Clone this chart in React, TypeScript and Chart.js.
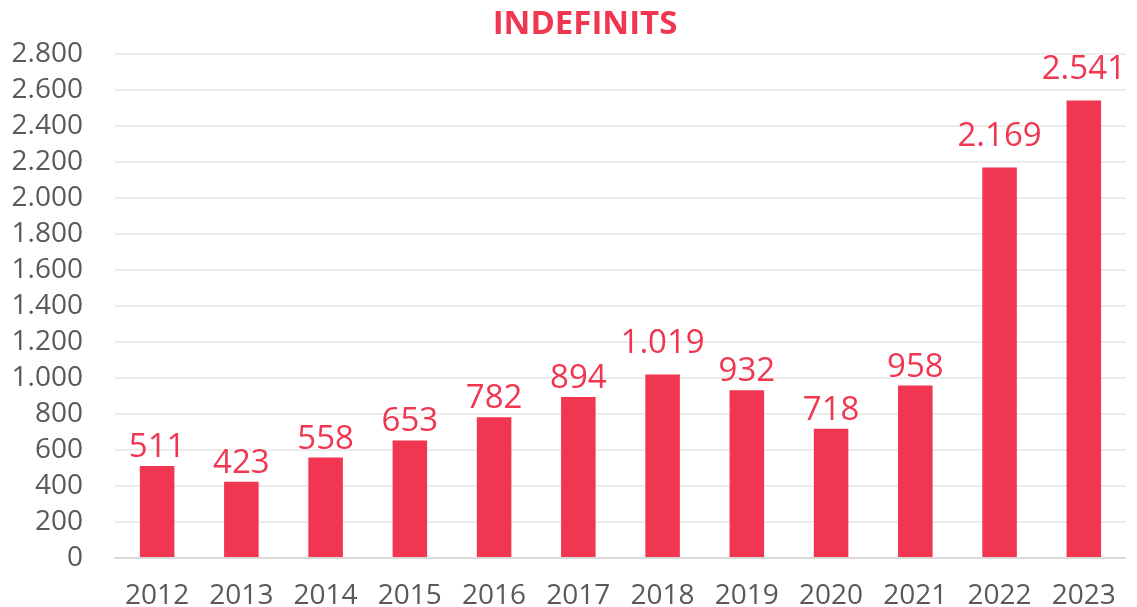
import React, { useEffect, useRef } from "react";
import { Chart, registerables } from "chart.js";

Chart.register(...registerables);

const years = ["2012", "2013", "2014", "2015", "2016", "2017", "2018", "2019", "2020", "2021", "2022", "2023"];
const indefinits = [511, 423, 558, 653, 782, 894, 1019, 932, 718, 958, 2169, 2541];
const chartTitle = "INDEFINITS";

const RED = "#F03651";
const GRAY = "#595959";
const FONT = "'Open Sans', 'Noto Sans', sans-serif";

const fmt = (v: number) => v.toLocaleString("de-DE");

const valueLabels = {
  id: "valueLabels",
  afterDatasetsDraw(chart: any) {
    const ctx = chart.ctx;
    const meta = chart.getDatasetMeta(0);
    ctx.save();
    ctx.fillStyle = RED;
    ctx.font = `33px ${FONT}`;
    ctx.textAlign = "center";
    ctx.textBaseline = "alphabetic";
    meta.data.forEach((bar: any, i: number) => {
      const v = indefinits[i];
      const gap = v >= 1000 ? 22 : 9;
      ctx.fillText(fmt(v), bar.x, bar.y - gap);
    });
    ctx.restore();
  },
};

const titleDraw = {
  id: "titleDraw",
  afterDraw(chart: any) {
    const ctx = chart.ctx;
    ctx.save();
    ctx.fillStyle = RED;
    ctx.font = `bold 33px ${FONT}`;
    ctx.textAlign = "center";
    ctx.textBaseline = "middle";
    ctx.fillText(chartTitle, 585, 25);
    ctx.restore();
  },
};

export default function App() {
  const ref = useRef<HTMLCanvasElement>(null);
  useEffect(() => {
    document.body.style.margin = "0";
    const chart = new Chart(ref.current!, {
      type: "bar",
      data: {
        labels: years,
        datasets: [
          {
            data: indefinits,
            backgroundColor: RED,
            barPercentage: 0.41,
            categoryPercentage: 1,
          },
        ],
      },
      options: {
        animation: false,
        responsive: false,
        locale: "de-DE",
        layout: { padding: { left: 0, right: 4, top: 54, bottom: 0 } },
        plugins: {
          legend: { display: false },
          tooltip: { enabled: false },
          title: { display: false },
        },
        scales: {
          x: {
            grid: { display: false, drawTicks: false },
            border: { display: true, color: "#d9d9d9", width: 2 },
            ticks: { color: GRAY, font: { family: FONT, size: 28 }, padding: 21, autoSkip: false, maxRotation: 0 },
            afterFit: (s: any) => {
              s.height = 49;
            },
          },
          y: {
            min: 0,
            max: 2800,
            grid: { color: "#ececec", lineWidth: 2, drawTicks: false },
            border: { display: false },
            ticks: {
              stepSize: 200,
              autoSkip: false,
              color: GRAY,
              font: { family: FONT, size: 28 },
              padding: 32,
              callback: (v: any) => fmt(Number(v)),
            },
            afterFit: (s: any) => {
              s.width = 115;
            },
          },
        },
      },
      plugins: [valueLabels, titleDraw],
    });
    return () => chart.destroy();
  }, []);
  return (
    <div style={{ position: "fixed", left: 0, top: 0, width: 1137, height: 607 }}>
      <canvas ref={ref} width={1137} height={607} />
    </div>
  );
}
